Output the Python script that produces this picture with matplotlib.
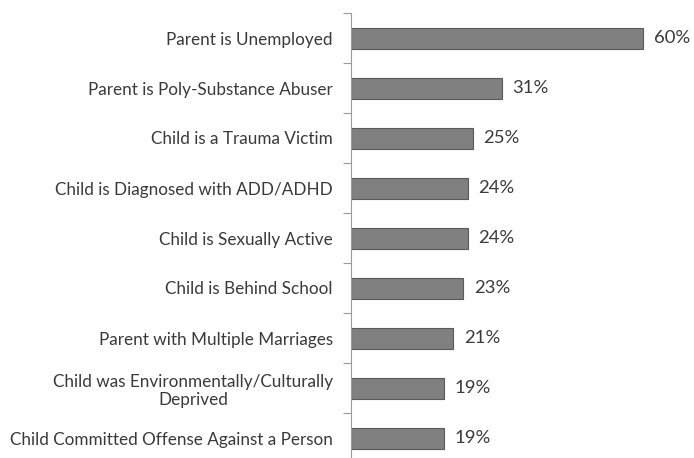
import numpy as np
import matplotlib.pyplot as plt

categories = [
    "Parent is Unemployed",
    "Parent is Poly-Substance Abuser",
    "Child is a Trauma Victim",
    "Child is Diagnosed with ADD/ADHD",
    "Child is Sexually Active",
    "Child is Behind School",
    "Parent with Multiple Marriages",
    "Child was Environmentally/Culturally\nDeprived",
    "Child Committed Offense Against a Person",
]
values = [60, 31, 25, 24, 24, 23, 21, 19, 19]

text_color = "#3a3a3a"
plt.rcParams["font.family"] = ["Lato", "DejaVu Sans"]

fig = plt.figure(figsize=(6.94, 4.58), dpi=100)
# axes extends slightly below the figure edge, like the cropped original
ax = fig.add_axes([351 / 694, -5 / 458, 341 / 694, 450 / 458])

y = np.arange(len(categories))
ax.barh(y, values, height=0.42, color="#808080", edgecolor="#5a5a5a", linewidth=0.8)

for yi, v in zip(y, values):
    ax.text(v + 2.2, yi, f"{v}%", va="center", ha="left",
            fontsize=13.3, color=text_color)

ax.set_ylim(len(categories) - 0.5, -0.5)
ax.set_xlim(0, 70)

ax.set_yticks(y)
ax.set_yticklabels(categories, fontsize=12.3, color=text_color, ha="right",
                   multialignment="center", linespacing=1.2)
ax.tick_params(axis="y", which="major", length=0, pad=13)
ax.set_yticks(np.arange(-0.5, len(categories), 1.0), minor=True)
ax.tick_params(axis="y", which="minor", length=6, width=0.8, color="#9a9a9a")

ax.set_xticks([])
for side in ("top", "right", "bottom"):
    ax.spines[side].set_visible(False)
ax.spines["left"].set_color("#9a9a9a")
ax.spines["left"].set_linewidth(0.8)

fig.savefig("out.png", dpi=100)
